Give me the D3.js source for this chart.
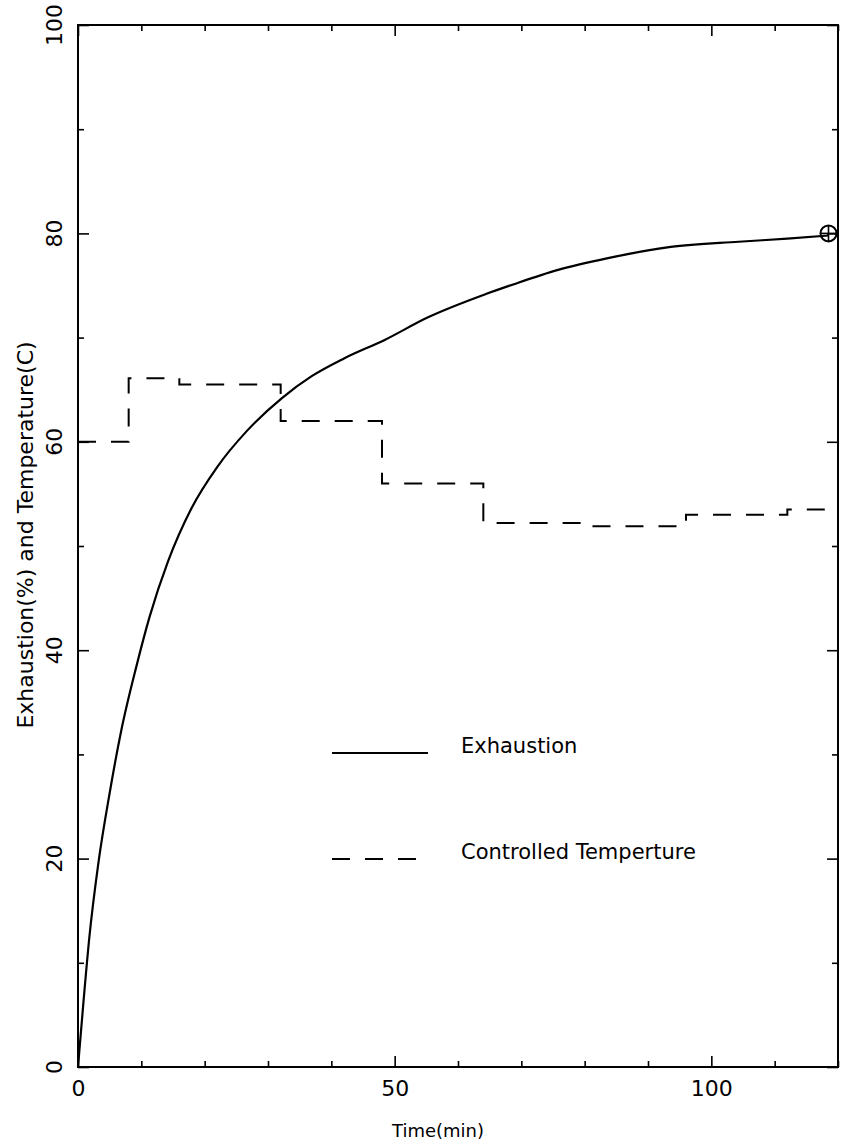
<!DOCTYPE html>
<html lang="en">
<head>
<meta charset="UTF-8">
<title>Exhaustion and Controlled Temperature</title>
<style>
body { margin: 0; background: #fff; }
svg { display: block; }
text { font-family: "DejaVu Sans", sans-serif; fill: #000; }
.frame { fill: none; stroke: #000; stroke-width: 2px; }
.tick line { stroke: #000; stroke-width: 1.6px; }
.exh { fill: none; stroke: #000; stroke-width: 2.2px; }
.temp { fill: none; stroke: #000; stroke-width: 2px; stroke-dasharray: 18 15; }
</style>
</head>
<body>
<script src="https://cdnjs.cloudflare.com/ajax/libs/d3/7.8.5/d3.min.js"></script>
<script>
// exhaustion curve
var exhTime = [0, 0.8, 1.8, 3.2, 5.0, 6.8, 9.2, 11.3, 14.2, 17.9, 22.0, 26.6, 32.2, 36.9, 42, 48.5, 55.1, 64.5, 68.7, 75.8, 83.5, 93.6, 104.3, 112, 118.5];
var exhValue = [0, 5.8, 12.5, 19.5, 26.3, 32.2, 38.4, 43.2, 48.5, 53.6, 57.6, 61.0, 64.2, 66.3, 68.0, 69.8, 71.9, 74.2, 75.1, 76.5, 77.6, 78.7, 79.2, 79.5, 79.8];

// controlled temperature steps (start time of each step, level)
var stepStart = [0, 8, 16, 32, 48, 64, 80, 96, 112];
var stepLevel = [60.0, 66.1, 65.5, 62.0, 56.0, 52.2, 51.9, 53.0, 53.5];
var stepEnd = 120;

// end point marker
var markerPoint = [118.5, 80];

var xMajor = [0, 50, 100];
var yMajor = [0, 20, 40, 60, 80, 100];
var legendLabels = ["Exhaustion", "Controlled Temperture"];

(function () {
  var W = 841, H = 1148;
  var mLeft = 78, mRight = 838, mTop = 25, mBottom = 1067;

  var svg = d3.select("body").append("svg")
    .attr("width", W)
    .attr("height", H);

  var x = d3.scaleLinear().domain([0, 120]).range([mLeft, mRight]);
  var y = d3.scaleLinear().domain([0, 100]).range([mBottom, mTop]);

  var xMinor = d3.range(0, 121, 10).filter(function (d) { return xMajor.indexOf(d) < 0; });
  var yMinor = d3.range(0, 101, 10).filter(function (d) { return yMajor.indexOf(d) < 0; });

  // ticks point inward on all four sides
  function addAxis(axis, tx, ty) {
    var g = svg.append("g").attr("transform", "translate(" + tx + "," + ty + ")").call(axis);
    g.select(".domain").remove();
    return g;
  }
  addAxis(d3.axisBottom(x).tickValues(xMinor).tickSize(-6).tickFormat(""), 0, mBottom);
  var xLab = addAxis(d3.axisBottom(x).tickValues(xMajor).tickSize(-11).tickPadding(13), 0, mBottom);
  xLab.selectAll("text").style("font-size", "22px").style("font-family", "DejaVu Sans");
  addAxis(d3.axisTop(x).tickValues(xMinor).tickSize(-6).tickFormat(""), 0, mTop);
  addAxis(d3.axisTop(x).tickValues(xMajor).tickSize(-11).tickFormat(""), 0, mTop);

  addAxis(d3.axisLeft(y).tickValues(yMinor).tickSize(-6).tickFormat(""), mLeft, 0);
  addAxis(d3.axisLeft(y).tickValues(yMajor).tickSize(-11).tickFormat(""), mLeft, 0);
  addAxis(d3.axisRight(y).tickValues(yMinor).tickSize(-6).tickFormat(""), mRight, 0);
  addAxis(d3.axisRight(y).tickValues(yMajor).tickSize(-11).tickFormat(""), mRight, 0);

  // rotated y tick labels
  svg.append("g").selectAll("text")
    .data(yMajor)
    .enter().append("text")
    .attr("transform", function (d) { return "translate(62," + y(d) + ") rotate(-90)"; })
    .attr("text-anchor", "middle")
    .style("font-size", "22px")
    .text(function (d) { return d; });

  svg.append("rect").attr("class", "frame")
    .attr("x", mLeft).attr("y", mTop)
    .attr("width", mRight - mLeft).attr("height", mBottom - mTop);

  // axis titles
  svg.append("text")
    .attr("x", 438).attr("y", 1137)
    .attr("text-anchor", "middle")
    .style("font-size", "18px")
    .text("Time(min)");

  svg.append("text")
    .attr("transform", "translate(33,535) rotate(-90)")
    .attr("text-anchor", "middle")
    .style("font-size", "22px")
    .text("Exhaustion(%) and Temperature(C)");

  // exhaustion line
  var exhData = exhTime.map(function (t, i) { return [t, exhValue[i]]; });
  var line = d3.line()
    .x(function (d) { return x(d[0]); })
    .y(function (d) { return y(d[1]); })
    .curve(d3.curveMonotoneX);

  svg.append("path").attr("class", "exh").attr("d", line(exhData));

  // controlled temperature step line
  var tempData = [];
  stepStart.forEach(function (t, i) {
    var end = i < stepStart.length - 1 ? stepStart[i + 1] : stepEnd;
    tempData.push([t, stepLevel[i]]);
    tempData.push([end, stepLevel[i]]);
  });
  var stepLine = d3.line()
    .x(function (d) { return x(d[0]); })
    .y(function (d) { return y(d[1]); });
  svg.append("path").attr("class", "temp").attr("d", stepLine(tempData));

  // circle-plus marker at the end of the curve
  var mx = x(markerPoint[0]), my = y(markerPoint[1]), r = 8;
  var mk = svg.append("g").attr("transform", "translate(" + mx + "," + my + ")");
  mk.append("circle").attr("r", r).attr("fill", "none").attr("stroke", "#000").attr("stroke-width", 2);
  mk.append("line").attr("x1", -r).attr("x2", r).attr("stroke", "#000").attr("stroke-width", 1.6);
  mk.append("line").attr("y1", -r).attr("y2", r).attr("stroke", "#000").attr("stroke-width", 1.6);

  // legend
  var legend = svg.append("g");
  var legY = [753, 859];
  legend.append("line").attr("class", "exh")
    .attr("x1", 332).attr("x2", 428).attr("y1", legY[0]).attr("y2", legY[0]);
  legend.append("line").attr("class", "temp")
    .attr("x1", 332).attr("x2", 428).attr("y1", legY[1]).attr("y2", legY[1]);
  legend.selectAll("text")
    .data(legendLabels)
    .enter().append("text")
    .attr("x", 461)
    .attr("y", function (d, i) { return legY[i]; })
    .style("font-size", "21px")
    .text(function (d) { return d; });
})();
</script>
</body>
</html>
